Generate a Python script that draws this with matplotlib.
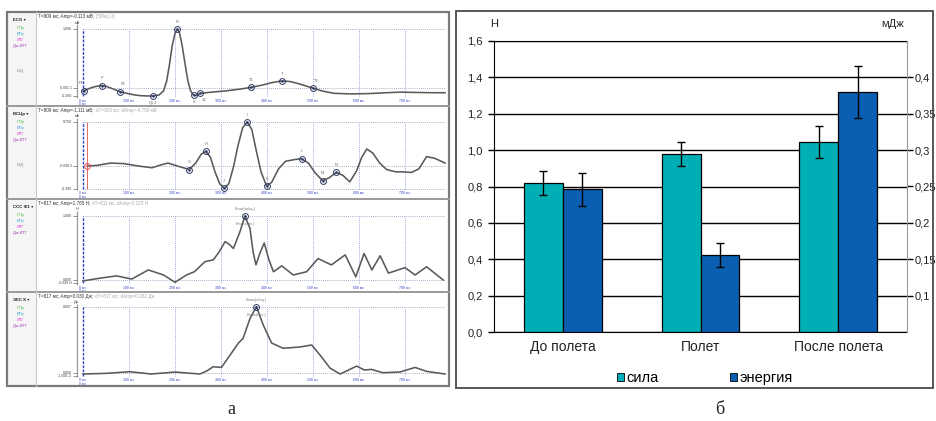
import matplotlib
matplotlib.use('Agg')
import matplotlib.pyplot as plt
from matplotlib.lines import Line2D
from matplotlib.patches import Rectangle
import numpy as np

# ---------------- data: right panel (bar chart) ----------------
categories = ['До полета', 'Полет', 'После полета']
force = [0.82, 0.98, 1.045]          # Н
force_err = [0.065, 0.065, 0.09]
energy = [0.246, 0.156, 0.38]        # мДж
energy_err = [0.0225, 0.016, 0.036]
force_ticks = [0.0, 0.2, 0.4, 0.6, 0.8, 1.0, 1.2, 1.4, 1.6]
force_tick_labels = ['0,0', '0,2', '0,4', '0,6', '0,8', '1,0', '1,2', '1,4', '1,6']
energy_ticks = [0.1, 0.15, 0.2, 0.25, 0.3, 0.35, 0.4]
energy_tick_labels = ['0,1', '0,15', '0,2', '0,25', '0,3', '0,35', '0,4']
legend_labels = ['сила', 'энергия']

# ---------------- data: left panel (recordings) ----------------
grid_ms = [100, 200, 300, 400, 500, 600, 700]

ecg_t = [0, 10, 20, 30, 41, 50, 60, 70, 80, 95, 110, 125, 140, 152, 165, 175, 182, 188, 194,
         200, 205, 210, 216, 222, 228, 234, 240, 246, 255, 280, 310, 340, 365, 390, 410, 432,
         450, 470, 499, 520, 545, 580, 620, 660, 690, 720, 760, 787]
ecg_v = [-0.05, -0.02, 0.01, 0.03, 0.04, 0.03, 0.0, -0.03, -0.06, -0.09, -0.115, -0.13, -0.135,
         -0.135, -0.12, -0.05, 0.12, 0.4, 0.72, 0.93, 1.0, 0.93, 0.7, 0.4, 0.12, -0.05, -0.12,
         -0.125, -0.09, -0.07, -0.05, -0.02, 0.01, 0.05, 0.09, 0.12, 0.11, 0.07, 0.0, -0.05,
         -0.09, -0.1, -0.095, -0.08, -0.07, -0.075, -0.08, -0.08]
ecg_mark_t = [2, 41, 80, 152, 205, 242, 255, 365, 432, 499]
ecg_mark_v = [-0.045, 0.04, -0.06, -0.135, 1.0, -0.125, -0.09, 0.01, 0.12, 0.0]
ecg_mark_lab = ['P1', 'P', 'P2', 'Q1,2', 'R', 'S', 'S2', 'T1', 'T', 'T2']

vcg_t = [9, 30, 60, 90, 120, 150, 170, 185, 205, 231, 245, 257, 267, 277, 287, 297, 307, 317,
         327, 337, 347, 357, 367, 377, 387, 399, 410, 425, 440, 460, 475, 490, 505, 521, 535,
         551, 565, 580, 595, 606, 617, 630, 645, 660, 680, 696, 714, 730, 747, 765, 787]
vcg_v = [0.0, 0.01, 0.05, 0.04, 0.0, -0.03, 0.02, 0.05, 0.0, -0.06, 0.05, 0.2, 0.25, 0.15,
         -0.1, -0.3, -0.38, -0.3, -0.02, 0.35, 0.65, 0.75, 0.62, 0.25, -0.1, -0.34, -0.28,
         -0.05, 0.08, 0.11, 0.125, 0.05, -0.12, -0.25, -0.2, -0.11, -0.16, -0.27, -0.08, 0.15,
         0.29, 0.22, 0.05, -0.06, -0.1, -0.1, -0.11, -0.05, 0.16, 0.13, 0.05]
vcg_mark_t = [231, 267, 307, 357, 399, 475, 521, 551]
vcg_mark_v = [-0.06, 0.25, -0.38, 0.75, -0.34, 0.125, -0.25, -0.11]
vcg_mark_lab = ['G', 'H', 'J', 'I', 'K', 'L', 'M', 'N']

frc_t = [0, 37, 73, 106, 142, 175, 200, 225, 242, 265, 283, 295, 309, 318, 327, 341, 352, 363,
         370, 376, 385, 394, 404, 414, 432, 457, 486, 511, 540, 570, 593, 611, 628, 646, 664,
         700, 722, 747, 783]
frc_v = [-0.02, 0.04, 0.09, 0.02, 0.22, 0.11, -0.05, 0.11, 0.18, 0.4, 0.44, 0.6, 0.84, 0.78,
         0.69, 1.05, 1.4, 1.13, 0.6, 0.33, 0.6, 0.81, 0.45, 0.18, 0.31, 0.11, 0.18, 0.47, 0.33,
         0.55, 0.07, 0.58, 0.22, 0.53, 0.15, 0.27, 0.11, 0.29, 0.0]
frc_mark_t = [352]
frc_mark_v = [1.4]

enr_t = [0, 50, 102, 148, 200, 254, 270, 283, 301, 320, 338, 348, 363, 377, 392, 410, 435,
         472, 497, 515, 537, 559, 595, 612, 627, 652, 689, 722, 747, 787]
enr_v = [-0.02, -0.01, 0.015, -0.02, 0.01, -0.02, 0.03, 0.09, 0.08, 0.27, 0.45, 0.52, 0.82,
         1.0, 0.72, 0.45, 0.37, 0.39, 0.42, 0.27, 0.07, -0.02, 0.1, 0.04, 0.05, 0.0, 0.01,
         0.08, 0.02, -0.02]
enr_mark_t = [377]
enr_mark_v = [1.0]

# ---------------- figure helpers ----------------
W, H = 936, 421
plt.rcParams['font.family'] = ['Liberation Sans', 'DejaVu Sans']
fig = plt.figure(figsize=(W / 100, H / 100), dpi=100)


def fx(x):
    return x / W


def fy(y):
    return 1 - y / H


def add_ax(x0, y0, x1, y1):
    return fig.add_axes([x0 / W, 1 - y1 / H, (x1 - x0) / W, (y1 - y0) / H])


def ftext(x, y, s, **kw):
    return fig.text(fx(x), fy(y), s, **kw)


def fline(xs, ys, **kw):
    fig.add_artist(Line2D([fx(x) for x in xs], [fy(y) for y in ys],
                          transform=fig.transFigure, **kw))


# ---------------- left panel ----------------
fig.add_artist(Rectangle((fx(36), fy(386)), fx(449) - fx(36), fy(12) - fy(386),
                         transform=fig.transFigure, facecolor='white', edgecolor='none', zorder=-5))
fig.add_artist(Rectangle((fx(7), fy(386)), fx(36) - fx(7), fy(12) - fy(386),
                         transform=fig.transFigure, facecolor='#f5f5f5', edgecolor='none', zorder=-5))

X0 = 83.0       # pixel of t = 0
PXMS = 0.46     # pixels per ms

panels = [
    dict(top=12, bot=106, y0=88, s=59, t=ecg_t, v=ecg_v, mt=ecg_mark_t, mv=ecg_mark_v,
         ml=ecg_mark_lab, name='ECG ▾', unit='мВ', id_label=True,
         ticks=[1.0, 0.0, -0.14], tlabels=['1.000', '0.001 1', '-0.200'],
         hgrid=[1.0, 0.0], head='T=809 мс; Amp=-0.113 мВ;', head2='[5Мкц U]'),
    dict(top=106, bot=199, y0=166, s=58.7, t=vcg_t, v=vcg_v, mt=vcg_mark_t, mv=vcg_mark_v,
         ml=vcg_mark_lab, name='ВСЦр ▾', unit='мБ', id_label=True,
         ticks=[0.75, 0.0, -0.39], tlabels=['0.750', '-0.008 5', '-0.390'],
         hgrid=[0.75, 0.0, -0.39], head='T=809 мс; Amp=-1.111 мБ;',
         head2='dT=803 мс; dAmp=-0.750 мБ'),
    dict(top=199, bot=292, y0=280, s=45.7, t=frc_t, v=frc_v, mt=frc_mark_t, mv=frc_mark_v,
         ml=None, name='ССС Ф1 ▾', unit='Н', id_label=False,
         ticks=[1.4, 0.0, -0.07], tlabels=['1.400', '0.000', '-0.045 Н'],
         hgrid=[1.4, 0.0], head='T=817 мс; Amp=1.765 Н;', head2='dT=811 мс; dAmp=2.125 Н',
         peak=('Fmax(общ.)', 'Fmax(пик.)')),
    dict(top=292, bot=386, y0=372.7, s=66, t=enr_t, v=enr_v, mt=enr_mark_t, mv=enr_mark_v,
         ml=None, name='ЭЕС К ▾', unit='Дж', id_label=False,
         ticks=[1.0, 0.0, -0.05], tlabels=['0.097', '0.000', '-1.00E-3'],
         hgrid=[1.0, 0.0], head='T=817 мс; Amp=0.030 Дж;', head2='dT=817 мс; dAmp=0.282 Дж',
         peak=('Kmax(общ.)', 'Kmax(пик.)')),
]

side_items = [('ППр', '#3fbf3f'), ('ВПр', '#3f9fdf'), ('ИТГ', '#e040e0'), ('Дж ИТГ', '#a040b0')]

fig.canvas.draw()
renderer = fig.canvas.get_renderer()

for p in panels:
    top, bot, y0, s = p['top'], p['bot'], p['y0'], p['s']
    ax = add_ax(38, top, 448, bot)
    ax.set_xlim((38 - X0) / PXMS, (448 - X0) / PXMS)
    ax.set_ylim((y0 - bot) / s, (y0 - top) / s)
    ax.axis('off')
    vtop, vbot = p['ticks'][0], p['ticks'][-1]
    # dotted grid
    for g in grid_ms:
        ax.vlines(g, vbot, vtop, colors='#7b8ad8', linestyles=(0, (1, 1.5)), lw=0.6)
    for hv in p['hgrid']:
        ax.hlines(hv, 0, 787, colors='#8a93b8', linestyles=(0, (1, 1.5)), lw=0.6)
    # cursor line at 0
    ax.vlines(0, vbot, vtop, colors='#3040c8', linestyles=(0, (2, 1)), lw=1.0)
    # y axis line
    t_axis = (77 - X0) / PXMS
    ax.vlines(t_axis, vbot - 0.02 * (vtop - vbot), (y0 - (top + 12)) / s,
              colors='#999999', lw=0.9)
    ftext(77, top + 10.5, p['unit'], fontsize=2.8, color='#444', ha='center', va='center')
    for tv, tl in zip(p['ticks'], p['tlabels']):
        ax.hlines(tv, (73 - X0) / PXMS, t_axis, colors='#666', lw=0.5)
        ax.text((72 - X0) / PXMS, tv, tl, fontsize=2.6, color='#444', ha='right', va='center')
    # x labels
    for g in [0] + grid_ms:
        lab = '0 мс\n0 мс' if g == 0 else f'{g} мс'
        ax.text(g, vbot - 0.035 * (vtop - vbot), lab, fontsize=2.5, color='#3040c8',
                ha='center', va='top', linespacing=0.9)
    # signal
    ax.plot(p['t'], p['v'], color='#5a5a5a', lw=1.15, solid_joinstyle='round')
    # markers
    ax.plot(p['mt'], p['mv'], 'o', mfc='none', mec='#2b3560', ms=4.2, mew=0.7)
    ax.plot(p['mt'], p['mv'], '.', color='#2b3560', ms=1.5)
    rng = vtop - vbot
    if p['ml'] is not None:
        for mt, mv, ml in zip(p['mt'], p['mv'], p['ml']):
            dy = 0.08 * rng
            va = 'bottom'
            if ml in ('Q1,2', 'S', 'S2'):
                dy, va = -0.07 * rng, 'top'
            dx = 8 if ml in ('S2', 'P2', 'T2') else (-6 if ml == 'P1' else 0)
            ax.text(mt + dx, mv + dy, ml, fontsize=2.8, color='#666', ha='center', va=va)
    if 'peak' in p:
        ax.text(p['mt'][0], p['mv'][0] + 0.07 * rng, p['peak'][0], fontsize=2.8,
                color='#777', ha='center', va='bottom')
        ax.text(p['mt'][0], p['mv'][0] - 0.12 * rng, p['peak'][1], fontsize=2.8,
                color='#777', ha='center', va='center')
    if p is panels[1]:
        ax.vlines(9, vbot, vtop, colors='#e05050', lw=0.6)
        ax.plot([9], [0.0], 'o', mfc='none', mec='#e05050', ms=4.2, mew=0.7)
    # header
    t1 = ftext(38, top + 4.5, p['head'], fontsize=3.3, color='#333', va='center')
    bb = t1.get_window_extent(renderer)
    ftext(bb.x1 + 2, top + 4.5, p['head2'], fontsize=3.3, color='#aaaaaa', va='center')
    # sidebar
    ftext(13, top + 8, p['name'], fontsize=3.2, color='#222', va='center', weight='bold')
    for k, (lab, col) in enumerate(side_items):
        ftext(17 if k < 3 else 13, top + 16 + 6 * k, lab, fontsize=2.9, color=col, va='center')
    if p['id_label']:
        ftext(17, top + 59, 'И.Д', fontsize=3.0, color='#888', va='center')
    if p is not panels[0]:
        fline([7, 449], [top, top], color='#9a9a9a', lw=1.4)

fline([36, 36], [12, 386], color='#c8c8c8', lw=0.8)
fig.add_artist(Rectangle((fx(7), fy(386)), fx(449) - fx(7), fy(12) - fy(386),
                         transform=fig.transFigure, fill=False, edgecolor='#7a7a7a', lw=1.6))

# ---------------- right panel ----------------
ax = add_ax(494, 41, 907, 332)
x = np.arange(len(categories))
w = 0.283
E_MIN, E_MAX = 0.05, 0.45
ax.set_xlim(-0.5, 2.5)
ax.set_ylim(0, 1.6)
ax.set_axisbelow(True)
ax.yaxis.grid(True, color='black', lw=1.0)
ax.bar(x - w / 2, force, width=w, color='#00AFB5', edgecolor='black', lw=0.9, zorder=2)
ax.errorbar(x - w / 2, force, yerr=force_err, fmt='none', ecolor='black', elinewidth=1.0,
            capsize=3, capthick=1.0, zorder=3)
ax.set_yticks(force_ticks)
ax.set_yticklabels(force_tick_labels)
ax.set_xticks(x)
ax.set_xticklabels(categories, fontsize=10, color='#222')
ax.tick_params(axis='x', length=0, pad=6)
ax.tick_params(axis='y', direction='out', length=4, width=1, labelsize=8, pad=4,
               labelcolor='#222')
ax.spines['right'].set_visible(False)
ax.spines['top'].set_color('black')
ax.spines['left'].set_color('black')
ax.spines['bottom'].set_color('black')

ax2 = ax.twinx()
ax2.set_ylim(E_MIN, E_MAX)
ax2.bar(x + w / 2, [e - E_MIN for e in energy], bottom=E_MIN, width=w, color='#0B5FB3',
        edgecolor='black', lw=0.9, zorder=2)
ax2.errorbar(x + w / 2, energy, yerr=energy_err, fmt='none', ecolor='black', elinewidth=1.0,
             capsize=3, capthick=1.0, zorder=3)
ax2.set_yticks(energy_ticks)
ax2.set_yticklabels(energy_tick_labels)
ax2.tick_params(axis='y', direction='out', length=4, width=1, labelsize=8, pad=1.5,
                labelcolor='#222')
for side in ('left', 'top', 'bottom'):
    ax2.spines[side].set_visible(False)
ax2.spines['right'].set_color('#9a9a9a')

ftext(494, 24, 'Н', fontsize=8, color='#222', ha='center', va='center')
ftext(893, 24, 'мДж', fontsize=8, color='#222', ha='center', va='center')

handles = [Rectangle((0, 0), 1, 1, facecolor='#00AFB5', edgecolor='black', lw=0.6),
           Rectangle((0, 0), 1, 1, facecolor='#0B5FB3', edgecolor='black', lw=0.6)]
fig.legend(handles, legend_labels, loc='center left', bbox_to_anchor=(fx(617), fy(378)),
           ncol=2, frameon=False, fontsize=10.5, handlelength=0.5, handleheight=0.5,
           handletextpad=0.15, columnspacing=4.9, borderpad=0, borderaxespad=0)

fig.add_artist(Rectangle((fx(456), fy(388)), fx(933) - fx(456), fy(11) - fy(388),
                         transform=fig.transFigure, fill=False, edgecolor='#4a4a4a', lw=1.3))

# panel letters
ftext(231, 409, 'а', fontsize=13, family=['Liberation Serif', 'DejaVu Serif'],
      ha='center', va='center', color='#222')
ftext(720, 409, 'б', fontsize=13, family=['Liberation Serif', 'DejaVu Serif'],
      ha='center', va='center', color='#222')

fig.savefig('out.png', dpi=100)
